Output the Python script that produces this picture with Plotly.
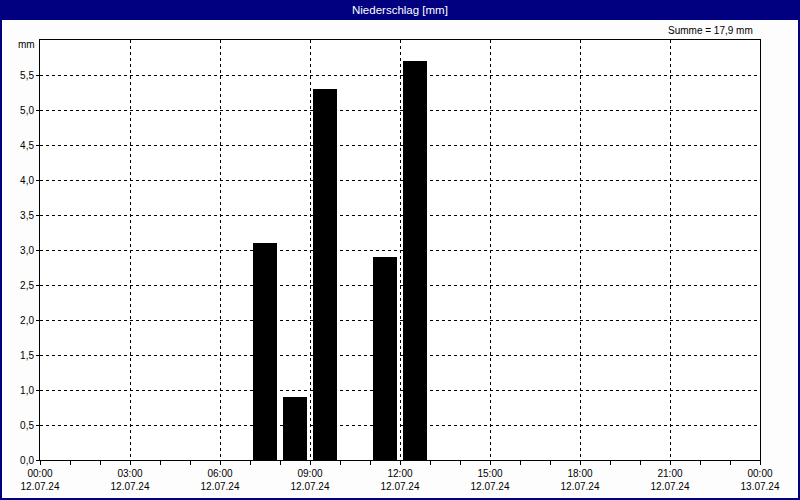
import plotly.graph_objects as go

# Data
hour_starts = ["2024-07-12 07:00", "2024-07-12 08:00", "2024-07-12 09:00",
               "2024-07-12 11:00", "2024-07-12 12:00"]
precip_mm = [3.1, 0.9, 5.3, 2.9, 5.7]
x_tick_vals = ["2024-07-12 00:00", "2024-07-12 03:00", "2024-07-12 06:00",
               "2024-07-12 09:00", "2024-07-12 12:00", "2024-07-12 15:00",
               "2024-07-12 18:00", "2024-07-12 21:00", "2024-07-13 00:00"]
x_tick_text = ["00:00<br>12.07.24", "03:00<br>12.07.24", "06:00<br>12.07.24",
               "09:00<br>12.07.24", "12:00<br>12.07.24", "15:00<br>12.07.24",
               "18:00<br>12.07.24", "21:00<br>12.07.24", "00:00<br>13.07.24"]
y_tick_vals = [0, 0.5, 1, 1.5, 2, 2.5, 3, 3.5, 4, 4.5, 5, 5.5]
y_tick_text = ["0,0", "0,5", "1,0", "1,5", "2,0", "2,5", "3,0", "3,5",
               "4,0", "4,5", "5,0", "5,5"]
title_text = "Niederschlag [mm]"
total_text = "Summe = 17,9 mm"

FONT = "Liberation Sans"
NAVY = "#000080"
HOUR_MS = 3600000

fig = go.Figure()
fig.add_trace(go.Bar(
    x=hour_starts, y=precip_mm,
    xperiod=HOUR_MS, xperiodalignment="middle",
    width=0.8 * HOUR_MS,
    marker=dict(color="#000000", line=dict(width=0)),
    hoverinfo="x+y",
))

L, R, T, B = 40, 40, 40, 40
W, H = 800, 500
pw, ph = W - L - R, H - T - B

def px_x(p):
    return (p - L) / pw

def px_y(p):
    return (H - B - p) / ph

shapes = [
    # title bar
    dict(type="rect", xref="paper", yref="paper",
         x0=px_x(0), x1=px_x(W), y0=px_y(20), y1=px_y(0),
         fillcolor=NAVY, line=dict(width=0), layer="above"),
    # window border
    dict(type="rect", xref="paper", yref="paper",
         x0=px_x(1), x1=px_x(W - 1), y0=px_y(H - 1), y1=px_y(1),
         fillcolor="rgba(0,0,0,0)", line=dict(color=NAVY, width=2), layer="above"),
]

annotations = [
    dict(text=title_text, xref="paper", yref="paper", x=0.5, y=px_y(10),
         xanchor="center", yanchor="middle", showarrow=False,
         font=dict(family=FONT, size=11.5, color="white")),
    dict(text=total_text, xref="paper", yref="paper", x=px_x(755), y=px_y(30),
         xanchor="right", yanchor="middle", showarrow=False,
         font=dict(family=FONT, size=10, color="black")),
    dict(text="mm", xref="paper", yref="paper", x=px_x(37), y=px_y(45),
         xanchor="right", yanchor="middle", showarrow=False,
         font=dict(family=FONT, size=10, color="black")),
]

fig.update_layout(
    width=W, height=H,
    margin=dict(l=L, r=R, t=T, b=B, pad=0, autoexpand=False),
    paper_bgcolor="#fdfdfd", plot_bgcolor="white",
    showlegend=False, bargap=0,
    font=dict(family=FONT, size=11, color="black"),
    shapes=shapes, annotations=annotations,
    xaxis=dict(
        type="date", automargin=False,
        range=["2024-07-12 00:00", "2024-07-13 00:00"],
        tickvals=x_tick_vals, ticktext=x_tick_text,
        showgrid=True, gridcolor="black", gridwidth=1, griddash="3px,3px",
        showline=True, linecolor="black", linewidth=1, mirror=True,
        ticks="outside", ticklen=4, tickcolor="black",
        minor=dict(dtick=HOUR_MS, ticks="outside", ticklen=4, tickcolor="black",
                   showgrid=False),
        tickfont=dict(family=FONT, size=10, color="black"),
        zeroline=False, fixedrange=True,
    ),
    yaxis=dict(
        range=[0, 6], automargin=False,
        tickvals=y_tick_vals, ticktext=y_tick_text,
        showgrid=True, gridcolor="black", gridwidth=1, griddash="3px,3px",
        showline=True, linecolor="black", linewidth=1, mirror=True,
        ticks="outside", ticklen=3, tickcolor="black",
        tickfont=dict(family=FONT, size=10, color="black"),
        zeroline=False, fixedrange=True,
    ),
)

fig.write_html("out.html",
               config={"displayModeBar": False},
               post_script="document.body.style.margin='0';document.body.style.overflow='hidden';")
